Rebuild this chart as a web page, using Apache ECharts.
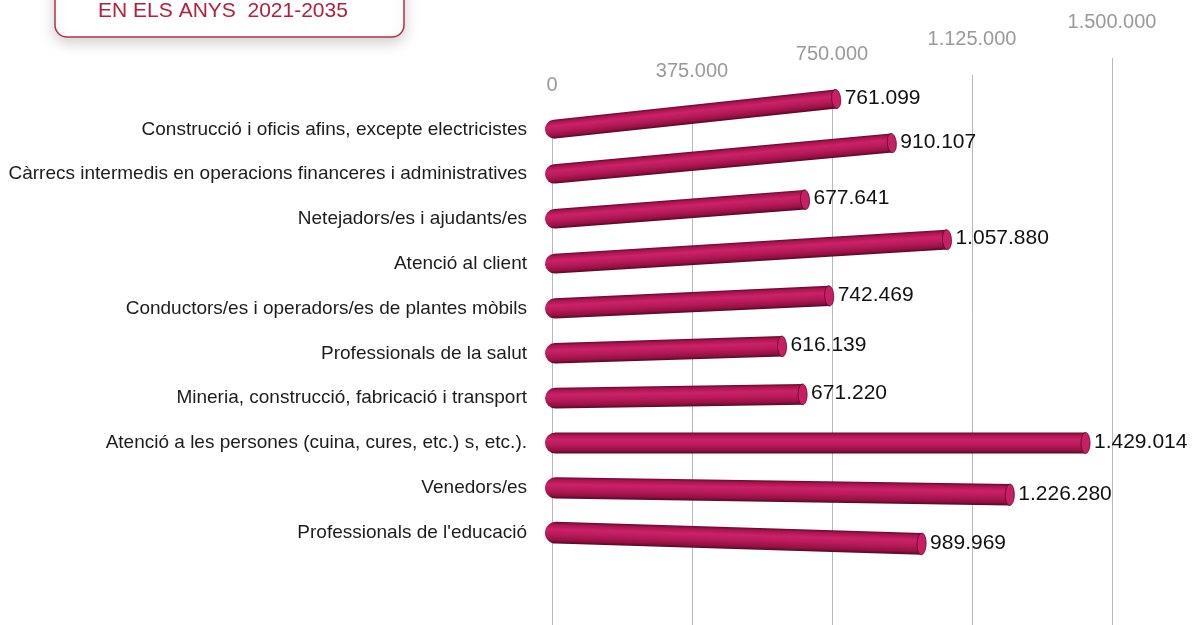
<!DOCTYPE html>
<html>
<head>
<meta charset="utf-8">
<script src="https://cdn.jsdelivr.net/npm/echarts@6/dist/echarts.min.js"></script>
<style>
  html, body { margin: 0; padding: 0; background: #fff; }
  #chart { width: 1204px; height: 625px; }
</style>
</head>
<body>
<div id="chart"></div>
<script>
// ---- data ----
const titleText = 'EN ELS ANYS  2021-2035';
const categories = [
  'Construcció i oficis afins, excepte electricistes',
  'Càrrecs intermedis en operacions financeres i administratives',
  'Netejadors/es i ajudants/es',
  'Atenció al client',
  'Conductors/es i operadors/es de plantes mòbils',
  'Professionals de la salut',
  'Mineria, construcció, fabricació i transport',
  'Atenció a les persones (cuina, cures, etc.) s, etc.).',
  'Venedors/es',
  "Professionals de l'educació"
];
const values = [761099, 910107, 677641, 1057880, 742469, 616139, 671220, 1429014, 1226280, 989969];
const axisMin = 0;
const axisMax = 1500000;
const axisStep = 375000;

// ---- helpers ----
function fmt(v) {
  return String(v).replace(/\B(?=(\d{3})+(?!\d))/g, '.');
}
const FONT = '"Liberation Sans", Arial, Helvetica, sans-serif';

// perspective look (style only)
const tiltPivot = 7;
const tiltStep = 0.0153;
const labelLift = [63, 49, 32, 17, 0];

const rich = {};
labelLift.forEach(function (p, i) {
  rich['t' + i] = {
    fontSize: 20, color: '#9a9a9a', fontFamily: FONT,
    padding: [p, 6, 26, 6], backgroundColor: '#ffffff'
  };
});

const barGradient = new echarts.graphic.LinearGradient(0, 0, 0, 1, [
  { offset: 0, color: '#66092e' },
  { offset: 0.12, color: '#a8154f' },
  { offset: 0.34, color: '#cc2169' },
  { offset: 0.6, color: '#b61a5a' },
  { offset: 0.85, color: '#951142' },
  { offset: 1, color: '#530726' }
]);

function renderItem(params, api) {
  const v = api.value(0);
  const idx = api.value(1);
  const p0 = api.coord([0, idx]);
  const p1 = api.coord([v, idx]);
  const h = 19 + idx * 0.3;
  const slope = (idx - tiltPivot) * tiltStep;
  const dx = p1[0] - p0[0];
  const dy = dx * slope;
  const L = Math.sqrt(dx * dx + dy * dy);
  const rot = -Math.atan2(dy, dx);
  const capL = 7;
  const capRx = 4.5;
  return {
    type: 'group',
    children: [
      {
        type: 'group',
        x: p0[0], y: p0[1], rotation: rot,
        children: [
          {
            type: 'rect',
            shape: { x: -capL, y: -h / 2, width: L + capL, height: h, r: [h / 2, 0, 0, h / 2] },
            style: { fill: barGradient }
          },
          {
            type: 'ellipse',
            shape: { cx: L, cy: 0, rx: capRx, ry: h / 2 },
            style: { fill: '#c81e64', stroke: '#5a0828', lineWidth: 0.8 }
          }
        ]
      },
      {
        type: 'text',
        x: p1[0] + capRx + 4,
        y: p0[1] + dy - 1,
        style: {
          text: fmt(v), fill: '#111111', font: '21px ' + FONT,
          align: 'left', verticalAlign: 'middle'
        }
      }
    ]
  };
}

const chart = echarts.init(document.getElementById('chart'), null, { renderer: 'canvas' });
const option = {
  animation: false,
  backgroundColor: '#ffffff',
  textStyle: { fontFamily: FONT },
  grid: [
    { left: 552, right: 92, top: 107, bottom: 70 },
    { left: 552, right: 92, top: 12, bottom: 0 }
  ],
  xAxis: [
    { gridIndex: 0, type: 'value', min: axisMin, max: axisMax, interval: axisStep, show: false },
    {
      gridIndex: 1, type: 'value', min: axisMin, max: axisMax, interval: axisStep,
      position: 'top',
      axisLine: { show: false }, axisTick: { show: false },
      splitLine: { show: true, lineStyle: { color: '#b8b8b8', width: 1 } },
      axisLabel: {
        inside: true, margin: 0, showMinLabel: true, showMaxLabel: true,
        formatter: function (val, i) { return '{t' + i + '|' + fmt(val) + '}'; },
        rich: rich
      }
    }
  ],
  yAxis: [
    {
      gridIndex: 0, type: 'category', data: categories, inverse: true,
      axisLine: { show: false }, axisTick: { show: false }, splitLine: { show: false },
      axisLabel: { margin: 25, fontSize: 19, color: '#1c1c1c', fontFamily: FONT }
    },
    { gridIndex: 1, type: 'value', show: false }
  ],
  series: [{
    type: 'custom',
    xAxisIndex: 0, yAxisIndex: 0,
    data: values.map(function (v, i) { return [v, i]; }),
    encode: { x: 0, y: 1 },
    renderItem: renderItem,
    clip: false,
    z: 5
  }],
  graphic: [
    {
      type: 'rect', x: 55, y: -45, z: 100,
      shape: { x: 0, y: 0, width: 349, height: 82, r: 12 },
      style: {
        fill: '#ffffff', stroke: '#b83149', lineWidth: 1.5,
        shadowBlur: 14, shadowColor: 'rgba(0,0,0,0.18)', shadowOffsetY: 5
      }
    },
    {
      type: 'text', x: 223, y: 11, z: 101,
      style: {
        text: titleText, fill: '#b2203c', font: '21px ' + FONT,
        align: 'center', verticalAlign: 'middle',
        textAlign: 'center', textVerticalAlign: 'middle'
      }
    }
  ]
};
chart.setOption(option);
</script>
</body>
</html>
